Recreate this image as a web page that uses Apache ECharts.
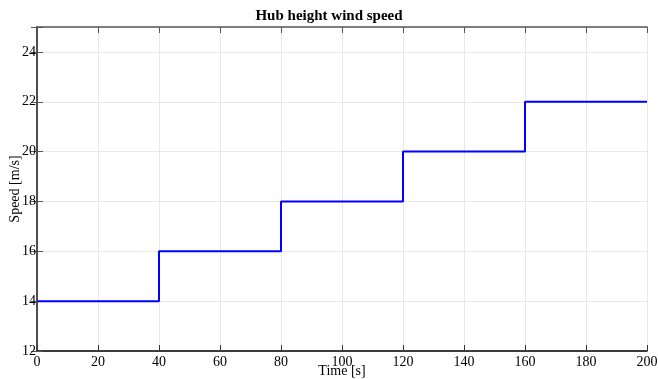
<!DOCTYPE html>
<html><head><meta charset="utf-8">
<script src="https://cdn.jsdelivr.net/npm/echarts@6/dist/echarts.min.js"></script>
<style>html,body{margin:0;padding:0;background:#fff}#c{width:658px;height:379px}</style>
</head><body><div id="c"></div>
<script>
const times = [0, 40, 80, 120, 160, 200];
const speeds = [14, 16, 18, 20, 22, 22];
const xTicks = [0, 20, 40, 60, 80, 100, 120, 140, 160, 180, 200];
const yTicks = [12, 14, 16, 18, 20, 22, 24];

const font = 'Liberation Serif';
const chart = echarts.init(document.getElementById('c'));
chart.setOption({
  animation: false,
  title: {text: 'Hub height wind speed', left: 'center', top: 4,
    textStyle: {fontFamily: font, fontWeight: 'bold', fontSize: 15, color: '#000'}},
  grid: {left: 37, right: 11, top: 27, bottom: 28, outerBoundsMode: 'none', containLabel: false},
  xAxis: [{
    type: 'value', min: 0, max: 200, interval: 20, position: 'bottom',
    name: 'Time [s]', nameLocation: 'middle', nameGap: 13, nameMoveOverlap: false,
    nameTextStyle: {fontFamily: font, fontSize: 14, lineHeight: 14, color: '#000'},
    axisLine: {lineStyle: {color: '#000', width: 1.5}},
    axisTick: {inside: true, length: 6, lineStyle: {color: '#333'}},
    axisLabel: {fontFamily: font, fontSize: 14, lineHeight: 14, color: '#000', margin: 4,
      formatter: v => xTicks.includes(v) ? String(v) : ''},
    splitLine: {show: true, lineStyle: {color: '#e8e8e8', width: 1}}
  }, {
    type: 'value', min: 0, max: 200, interval: 20, position: 'top',
    axisLine: {lineStyle: {color: '#555', width: 1.5}},
    axisTick: {inside: true, length: 6, lineStyle: {color: '#555'}},
    axisLabel: {show: false}, splitLine: {show: false}
  }],
  yAxis: [{
    type: 'value', min: 12, max: 25, interval: 2, position: 'left',
    name: 'Speed [m/s]', nameLocation: 'middle', nameGap: 15, nameMoveOverlap: false,
    nameTextStyle: {fontFamily: font, fontSize: 14, lineHeight: 14, color: '#000'},
    axisLine: {lineStyle: {color: '#000', width: 1.5}},
    axisTick: {inside: true, length: 6, lineStyle: {color: '#555'}},
    axisLabel: {fontFamily: font, fontSize: 14, color: '#000', margin: 1,
      formatter: v => yTicks.includes(v) ? String(v) : ''},
    splitLine: {show: true, lineStyle: {color: '#e8e8e8', width: 1}}
  }, {
    type: 'value', min: 12, max: 25, interval: 2, position: 'right',
    axisLine: {show: true, lineStyle: {color: '#555', width: 1.5}},
    axisTick: {show: true, inside: true, length: 6, lineStyle: {color: '#555'}},
    axisLabel: {show: false}, splitLine: {show: false}
  }],
  series: [{
    type: 'line', step: 'end', showSymbol: false,
    data: times.map((t, i) => [t, speeds[i]]),
    lineStyle: {color: '#0000ff', width: 2},
    itemStyle: {color: '#0000ff'}
  }]
});
</script></body></html>
